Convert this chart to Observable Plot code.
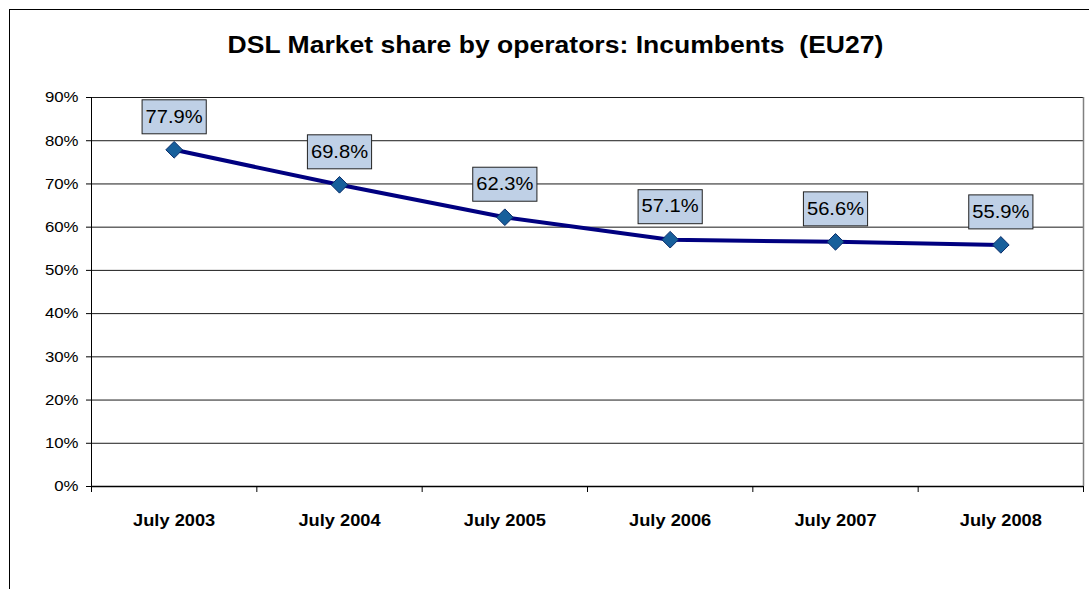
<!DOCTYPE html>
<html><head><meta charset="utf-8">
<script src="https://cdn.jsdelivr.net/npm/d3@7"></script>
<script src="https://cdn.jsdelivr.net/npm/@observablehq/plot@0.6"></script>
<style>
body{margin:0;background:#fff;}
#wrap{position:relative;width:1089px;height:589px;overflow:hidden;background:#fff;}
#border{position:absolute;left:9px;top:9px;width:1200px;height:700px;border:1px solid #000;box-sizing:border-box;}
#chart{position:absolute;left:0;top:0;}
svg text{white-space:pre;}
</style></head><body>
<div id="wrap"><div id="border"></div><div id="chart"></div></div>
<script>
const title = "DSL Market share by operators: Incumbents  (EU27)";
const categories = ["July 2003", "July 2004", "July 2005", "July 2006", "July 2007", "July 2008"];
const shares = [0.779, 0.698, 0.623, 0.571, 0.566, 0.559];
const yTicks = [0, 0.1, 0.2, 0.3, 0.4, 0.5, 0.6, 0.7, 0.8, 0.9];

const data = categories.map((c, i) => ({i, c, v: shares[i]}));
const xPos = d => d.i + 0.5;
const boundaries = d3.range(categories.length + 1);
const centers = categories.map((c, i) => i + 0.5);
const yMax = yTicks[yTicks.length - 1];

const svg = Plot.plot({
  width: 1089,
  height: 589,
  marginLeft: 91,
  marginRight: 6,
  marginTop: 97,
  marginBottom: 103,
  x: {domain: [0, categories.length], label: null},
  y: {domain: [0, yMax], label: null},
  style: {fontFamily: "Arial, 'Liberation Sans', sans-serif", fontSize: "15px", color: "#000", background: "transparent", overflow: "visible"},
  marks: [
    Plot.gridY(yTicks, {stroke: "#1a1a1a", strokeOpacity: 1, strokeWidth: 1}),
    Plot.ruleX([categories.length], {y1: 0, y2: yMax, stroke: "#808080", strokeWidth: 1.5}),
    Plot.ruleX([0], {y1: 0, y2: yMax, stroke: "#000", strokeWidth: 1}),
    Plot.axisY(yTicks, {label: null, tickFormat: d3.format(".0%"), tickSize: 5, tickPadding: 8, fontSize: 15}),
    Plot.axisX(boundaries, {label: null, tickSize: 6, tickFormat: () => "", tickPadding: 0}),
    Plot.axisX(centers, {label: null, tickSize: 0, tickPadding: 28, fontSize: 16.3, fontWeight: "bold", tickFormat: t => categories[Math.floor(t)]}),
    Plot.ruleY([0], {stroke: "#000", strokeWidth: 1.5}),
    Plot.line(data, {x: xPos, y: "v", stroke: "#000080", strokeWidth: 4}),
    Plot.dot(data, {x: xPos, y: "v", symbol: "diamond2", r: 7.5, fill: "#175f9b", stroke: "#0b2d6b", strokeWidth: 1}),
    Plot.text(data, {x: xPos, y: "v", text: d => d3.format(".1%")(d.v), dy: -33, fontSize: 18, fill: "#000", lineAnchor: "middle", ariaDescription: "data-labels"}),
    Plot.text([title], {frameAnchor: "top", lineAnchor: "middle", dx: -32, dy: -52, fontSize: 23.7, fontWeight: "bold", fill: "#000", ariaDescription: "title"})
  ]
});
document.getElementById("chart").append(svg);

const S = 1.12;
// label boxes
d3.select(svg).selectAll('g[aria-description="data-labels"] text').each(function() {
  const b = this.getBBox();
  const w = b.width * S + 7;
  const cx = (b.x + b.width / 2) * S;
  const rect = document.createElementNS("http://www.w3.org/2000/svg", "rect");
  rect.setAttribute("x", cx - w / 2);
  rect.setAttribute("y", -17);
  rect.setAttribute("width", w);
  rect.setAttribute("height", 34);
  rect.setAttribute("fill", "#bfd0e6");
  rect.setAttribute("stroke", "#222");
  rect.setAttribute("stroke-width", 1);
  const t = this.getAttribute("transform");
  if (t) rect.setAttribute("transform", t);
  this.parentNode.insertBefore(rect, this);
});
// horizontal stretch of text to match reference glyph widths
d3.select(svg).selectAll("text").each(function() {
  const t = this.getAttribute("transform") || "";
  const x = parseFloat(this.getAttribute("x")) || 0;
  this.setAttribute("transform", `${t} translate(${x},0) scale(${S},1) translate(${-x},0)`);
});
</script>
</body></html>
